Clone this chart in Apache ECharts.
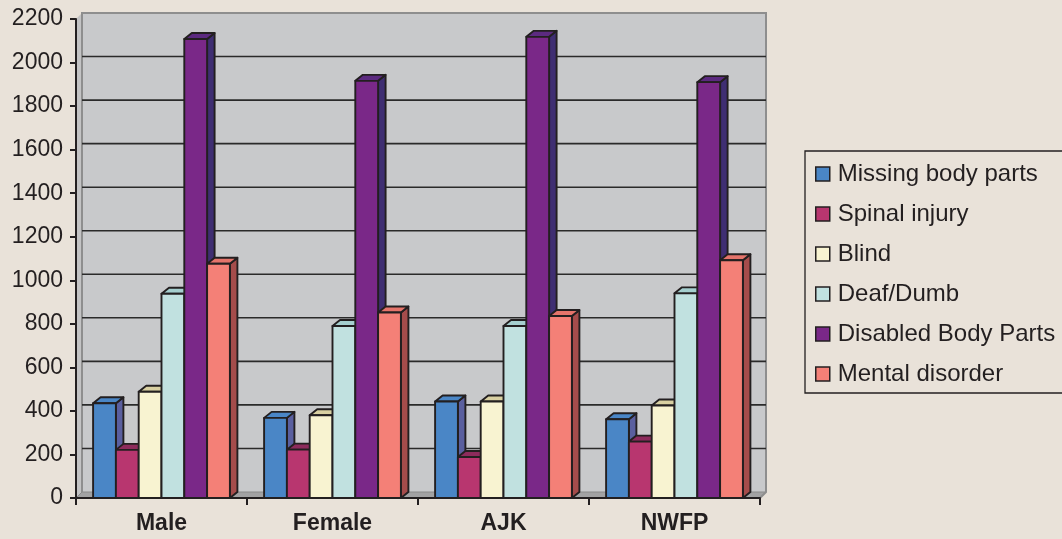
<!DOCTYPE html>
<html>
<head>
<meta charset="utf-8">
<title>Disability types by group</title>
<script src="https://cdn.jsdelivr.net/npm/echarts@6/dist/echarts.min.js"></script>
<style>
  html, body { margin: 0; padding: 0; background: #e9e2d9; }
  #chart { width: 1062px; height: 539px; }
</style>
</head>
<body>
<div id="chart"></div>
<script>
// Categories and the six disability series
const categories = ['Male', 'Female', 'AJK', 'NWFP'];
const seriesNames = ['Missing body parts', 'Spinal injury', 'Blind', 'Deaf/Dumb', 'Disabled Body Parts', 'Mental disorder'];

const missingBodyParts  = [435, 368, 443, 362];
const spinalInjury      = [221, 222, 188, 259];
const blind             = [488, 380, 443, 425];
const deafDumb          = [938, 790, 790, 940];
const disabledBodyParts = [2108, 1916, 2118, 1910];
const mentalDisorder    = [1076, 852, 836, 1092];

const yTicks = [0, 200, 400, 600, 800, 1000, 1200, 1400, 1600, 1800, 2000, 2200];

const seriesValues = [missingBodyParts, spinalInjury, blind, deafDumb, disabledBodyParts, mentalDisorder];

// Face colours for the extruded columns: front, top, side
const faceColors = [
  { front: '#4a86c6', top: '#4a86c6', side: '#5a5f9f' },
  { front: '#b8366f', top: '#8d2b5c', side: '#8d2b5c' },
  { front: '#f8f3d1', top: '#d9d0a2', side: '#d9d0a2' },
  { front: '#c1e1e0', top: '#a5cfcf', side: '#a5cfcf' },
  { front: '#7a2888', top: '#5c2a80', side: '#3f2e72' },
  { front: '#f48077', top: '#e5746b', side: '#a54c4b' }
];

const INK = '#231f20';
const FONT = '"Liberation Sans", Arial, sans-serif';
const GROUP = 0.8;           // share of a category taken by its columns
const BAR_DEPTH = [7.5, -6]; // extrusion of each column
const WALL_DEPTH = [6, -6];  // offset of the back wall

const chart = echarts.init(document.getElementById('chart'), null, { renderer: 'canvas' });

// Back wall, left side wall and floor, sized from the grid rectangle
function renderWalls(params, api) {
  const cs = params.coordSys;
  const [dx, dy] = WALL_DEPTH;
  const L = cs.x, T = cs.y, R = cs.x + cs.width, B = cs.y + cs.height;
  return {
    type: 'group',
    children: [
      { type: 'polygon', shape: { points: [[L + dx, T + dy], [R + dx, T + dy], [R + dx, B + dy], [L + dx, B + dy]] },
        style: { fill: '#c8c9cb', stroke: null } },
      { type: 'polygon', shape: { points: [[L, T], [L + dx, T + dy], [L + dx, B + dy], [L, B]] },
        style: { fill: '#c3c3c4', stroke: null } },
      { type: 'polygon', shape: { points: [[L, B], [L + dx, B + dy], [R + dx, B + dy], [R, B]] },
        style: { fill: '#a2a2a3', stroke: '#8a8a8a', lineWidth: 1 } },
      { type: 'polyline', shape: { points: [[L + dx, B + dy], [L + dx, T + dy], [R + dx, T + dy], [R + dx, B + dy], [R, B]] },
        style: { fill: null, stroke: '#8e8e8e', lineWidth: 2 } }
    ]
  };
}

// Horizontal gridlines painted on the back wall
function renderGridline(params, api) {
  const v = api.value(1);
  if (v === 0 || v === yTicks[yTicks.length - 1]) return null;
  const cs = params.coordSys;
  const y = api.coord([0, v])[1];
  const [dx, dy] = WALL_DEPTH;
  return {
    type: 'line',
    shape: { x1: cs.x + dx, y1: y + dy, x2: cs.x + cs.width + dx, y2: y + dy },
    style: { stroke: '#2a2a2a', lineWidth: 1.6 }
  };
}

// Extruded column for series k: side face, top face, then front face
function barRenderer(k) {
  const c = faceColors[k];
  return function (params, api) {
    const cat = api.value(0);
    const val = api.value(1);
    const top = api.coord([cat, val]);
    const base = api.coord([cat, 0]);
    const catW = api.size([1, 0])[0];
    const bw = catW * GROUP / seriesNames.length;
    const x0 = top[0] - catW * GROUP / 2 + k * bw;
    const x1 = x0 + bw;
    const yT = top[1], yB = base[1];
    const [dx, dy] = BAR_DEPTH;
    const edge = { stroke: INK, lineWidth: 1.9, lineJoin: 'round' };
    return {
      type: 'group',
      children: [
        { type: 'polygon', shape: { points: [[x1, yT], [x1 + dx, yT + dy], [x1 + dx, yB + dy], [x1, yB]] },
          style: Object.assign({ fill: c.side }, edge) },
        { type: 'polygon', shape: { points: [[x0, yT], [x0 + dx, yT + dy], [x1 + dx, yT + dy], [x1, yT]] },
          style: Object.assign({ fill: c.top }, edge) },
        { type: 'polygon', shape: { points: [[x0, yT], [x1, yT], [x1, yB], [x0, yB]] },
          style: Object.assign({ fill: c.front }, edge) }
      ]
    };
  };
}

const series = [
  {
    name: 'walls', type: 'custom', z: 1, silent: true,
    data: [[0, 0]], renderItem: renderWalls
  },
  {
    name: 'gridlines', type: 'custom', z: 2, silent: true,
    data: yTicks.map(v => [0, v]), renderItem: renderGridline
  }
].concat(seriesNames.map((name, k) => ({
  name: name,
  type: 'custom',
  z: 3,
  itemStyle: { color: faceColors[k].front },
  data: seriesValues[k].map((v, i) => [i, v]),
  renderItem: barRenderer(k)
})));

chart.setOption({
  animation: false,
  backgroundColor: '#e9e2d9',
  grid: { left: 76, right: 302, top: 19, bottom: 41 },
  legend: {
    orient: 'vertical',
    left: 805,
    top: 151,
    padding: [11, 30, 7, 10],
    itemGap: 16,
    itemWidth: 14,
    itemHeight: 14,
    icon: 'rect',
    borderColor: INK,
    borderWidth: 1.3,
    selectedMode: false,
    textStyle: { fontFamily: FONT, fontSize: 24, color: INK, padding: [0, 0, 0, 3] },
    data: seriesNames.map(n => ({ name: n, itemStyle: { borderColor: INK, borderWidth: 1.5 } }))
  },
  xAxis: {
    type: 'category',
    data: categories,
    z: 10,
    boundaryGap: true,
    axisLine: { lineStyle: { color: INK, width: 2 } },
    axisTick: { show: true, length: 7, lineStyle: { color: INK, width: 2 } },
    axisLabel: { margin: 14, fontFamily: FONT, fontSize: 23, fontWeight: 'bold', color: INK }
  },
  yAxis: {
    type: 'value',
    min: 0,
    max: 2200,
    interval: 200,
    z: 10,
    axisLine: { show: true, lineStyle: { color: INK, width: 2 } },
    axisTick: { show: true, length: 6, lineStyle: { color: INK, width: 2 } },
    splitLine: { show: false },
    axisLabel: { margin: 13, fontFamily: FONT, fontSize: 23, color: INK, formatter: v => String(v) }
  },
  series: series
});
</script>
</body>
</html>
